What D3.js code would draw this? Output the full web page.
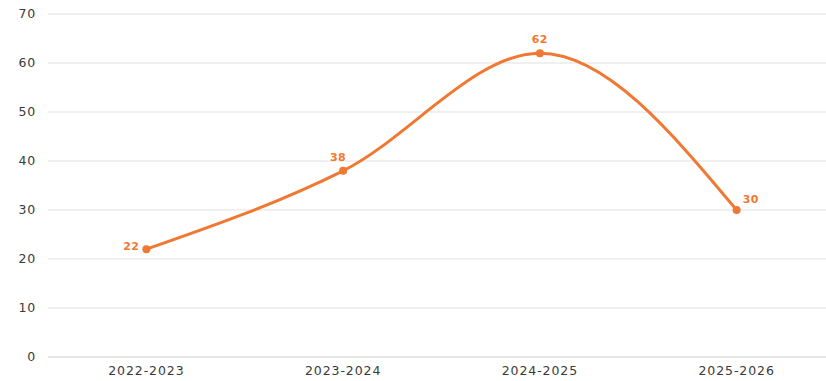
<!DOCTYPE html>
<html><head><meta charset="utf-8">
<script src="https://cdn.jsdelivr.net/npm/d3@7"></script>
<style>body{margin:0;background:#fff;}svg{display:block;}</style>
</head><body>
<svg id="chart" width="826" height="381"></svg>
<script>
const categories = ["2022-2023","2023-2024","2024-2025","2025-2026"];
const values = [22, 38, 62, 30];
const yTicks = [0,10,20,30,40,50,60,70];

const W = 826, H = 381;
const svg = d3.select("#chart");
const x = d3.scalePoint().domain(categories).range([48, 835]).padding(0.5);
const y = d3.scaleLinear().domain([0,70]).range([357, 14]);
const font = "'DejaVu Sans', 'Noto Sans', sans-serif";
const orange = "#f07832";

// grid
svg.append("g").selectAll("line").data(yTicks.filter(d=>d>0)).join("line")
  .attr("x1",48).attr("x2",W).attr("y1",d=>y(d)).attr("y2",d=>y(d))
  .attr("stroke","#ebebeb").attr("stroke-width",1.5);
svg.append("line").attr("x1",48).attr("x2",W).attr("y1",y(0)).attr("y2",y(0))
  .attr("stroke","#cfcfcf").attr("stroke-width",1.2);

// y labels
svg.append("g").selectAll("text").data(yTicks).join("text")
  .attr("x",36).attr("y",d=>y(d)).attr("dy","0.35em").attr("text-anchor","end")
  .attr("font-family",font).attr("font-size",12.5).attr("letter-spacing",0.8)
  .attr("fill","#3a3a3a").text(d=>d);

// x labels
svg.append("g").selectAll("text").data(categories).join("text")
  .attr("x",d=>x(d)).attr("y",371).attr("dy","0.35em").attr("text-anchor","middle")
  .attr("font-family",font).attr("font-size",12.5).attr("letter-spacing",0.9)
  .attr("fill","#3a3a3a").text(d=>d);

const data = categories.map((c,i)=>({c, v: values[i]}));
const line = d3.line().x(d=>x(d.c)).y(d=>y(d.v)).curve(d3.curveMonotoneX);
svg.append("path").datum(data).attr("d",line).attr("fill","none")
  .attr("stroke",orange).attr("stroke-width",3);
svg.append("g").selectAll("circle").data(data).join("circle")
  .attr("cx",d=>x(d.c)).attr("cy",d=>y(d.v)).attr("r",4).attr("fill",orange);

// data labels
const offs = [{dx:-15,dy:-3,a:"middle"},{dx:-5,dy:-14,a:"middle"},{dx:0,dy:-14,a:"middle"},{dx:6,dy:-11,a:"start"}];
svg.append("g").selectAll("text").data(data).join("text")
  .attr("x",(d,i)=>x(d.c)+offs[i].dx).attr("y",(d,i)=>y(d.v)+offs[i].dy).attr("dy","0.35em")
  .attr("text-anchor",(d,i)=>offs[i].a)
  .attr("font-family",font).attr("font-size",11).attr("font-weight","bold").attr("letter-spacing",0.5)
  .attr("fill",orange).text(d=>d.v);
</script>
</body></html>
